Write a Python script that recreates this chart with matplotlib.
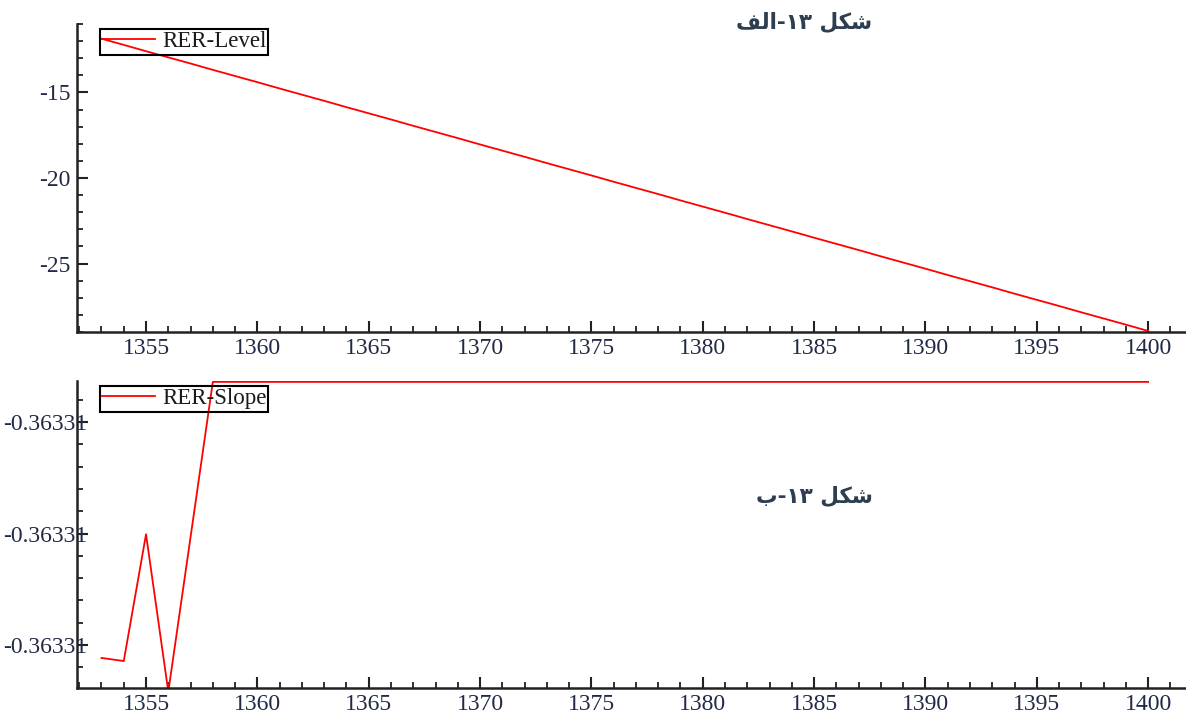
import matplotlib
matplotlib.use("Agg")
import matplotlib.pyplot as plt
from matplotlib.ticker import MultipleLocator, FormatStrFormatter

plt.rcParams['axes.unicode_minus'] = False

# سال‌ها
years = list(range(1353, 1401))

# RER-Level (خوانده شده از نمودار)
rer_level = [-11.86, -12.22, -12.59, -12.95, -13.31, -13.68, -14.04, -14.40,
             -14.77, -15.13, -15.49, -15.86, -16.22, -16.58, -16.95, -17.31,
             -17.67, -18.04, -18.40, -18.76, -19.13, -19.49, -19.85, -20.22,
             -20.58, -20.94, -21.31, -21.67, -22.03, -22.40, -22.76, -23.12,
             -23.49, -23.85, -24.21, -24.58, -24.94, -25.30, -25.67, -26.03,
             -26.39, -26.76, -27.12, -27.48, -27.85, -28.21, -28.57, -28.94]

# RER-Slope: تغییرات بسیار کوچک حول -0.36331
slope_base = -0.36331
slope_dev = [-0.58e-9, -0.72e-9, 4.97e-9, -2.1e-9, 4.85e-9] + [11.81e-9] * 43
rer_slope = [slope_base + d for d in slope_dev]

title_a = "\uFED2\uFEDF\uFE8D-\u06F1\u06F3 \uFEDE\uFB91\uFEB7"   # شکل ۱۳-الف
title_b = "\uFE8F-\u06F1\u06F3 \uFEDE\uFB91\uFEB7"               # شکل ۱۳-ب

W, H = 1186, 713
fig = plt.figure(figsize=(W / 100, H / 100), dpi=100)

serif = 'Liberation Serif'
tick_color = '#202a44'
fs = 17


def style_axes(ax, ypad):
    for s in ('top', 'right'):
        ax.spines[s].set_visible(False)
    for s in ('left', 'bottom'):
        ax.spines[s].set_linewidth(1.8)
        ax.spines[s].set_color('#222222')
    ax.xaxis.set_major_locator(MultipleLocator(5))
    ax.xaxis.set_minor_locator(MultipleLocator(1))
    ax.tick_params(which='major', direction='in', length=8, width=1.5, color='#222222',
                   labelsize=fs, labelcolor=tick_color)
    ax.tick_params(which='minor', direction='in', length=4.5, width=1.3, color='#222222')
    ax.tick_params(axis='x', pad=4)
    ax.tick_params(axis='y', pad=ypad)
    for lab in ax.get_xticklabels() + ax.get_yticklabels():
        lab.set_fontfamily(serif)
    ax.set_xlim(1351.9, 1401.7)


# پنل بالا
ax1 = fig.add_axes([77 / W, 1 - 332 / H, (W - 77) / W, (332 - 24) / H])
ax1.plot(years, rer_level, color='#ff0000', lw=1.3, label='RER-Level')
ax1.set_ylim(-29.0, -11.0)
ax1.yaxis.set_major_locator(MultipleLocator(5))
ax1.yaxis.set_minor_locator(MultipleLocator(1))
style_axes(ax1, 4.5)

# پنل پایین
ax2 = fig.add_axes([77 / W, 1 - 688 / H, (W - 77) / W, (688 - 381) / H])
ax2.plot(years, rer_slope, color='#ff0000', lw=1.3, label='RER-Slope')
ax2.set_ylim(slope_base - 1.93e-9, slope_base + 11.85e-9)
ax2.yaxis.set_major_locator(MultipleLocator(5e-9))
ax2.yaxis.set_minor_locator(MultipleLocator(1e-9))
ax2.yaxis.set_major_formatter(FormatStrFormatter('%.5f'))
style_axes(ax2, -7.5)

for ax in (ax1, ax2):
    leg = ax.legend(loc='upper left', bbox_to_anchor=(0.0207, 0.984), borderaxespad=0,
                    prop={'family': serif, 'size': 16.5}, fancybox=False,
                    facecolor='none', edgecolor='black', framealpha=1,
                    borderpad=0.1, handlelength=2.3, handletextpad=0.3)
    leg.get_frame().set_linewidth(1.5)
    for t in leg.get_texts():
        t.set_color('#1a1a1a')

fig.text(872 / W, 1 - 22 / H, title_a, ha='right', va='center', fontsize=15.5,
         fontweight='bold', color='#2c3e50', family='DejaVu Sans')
fig.text(873 / W, 1 - 496 / H, title_b, ha='right', va='center', fontsize=15.5,
         fontweight='bold', color='#2c3e50', family='DejaVu Sans')

fig.savefig('out.png', dpi=100)
